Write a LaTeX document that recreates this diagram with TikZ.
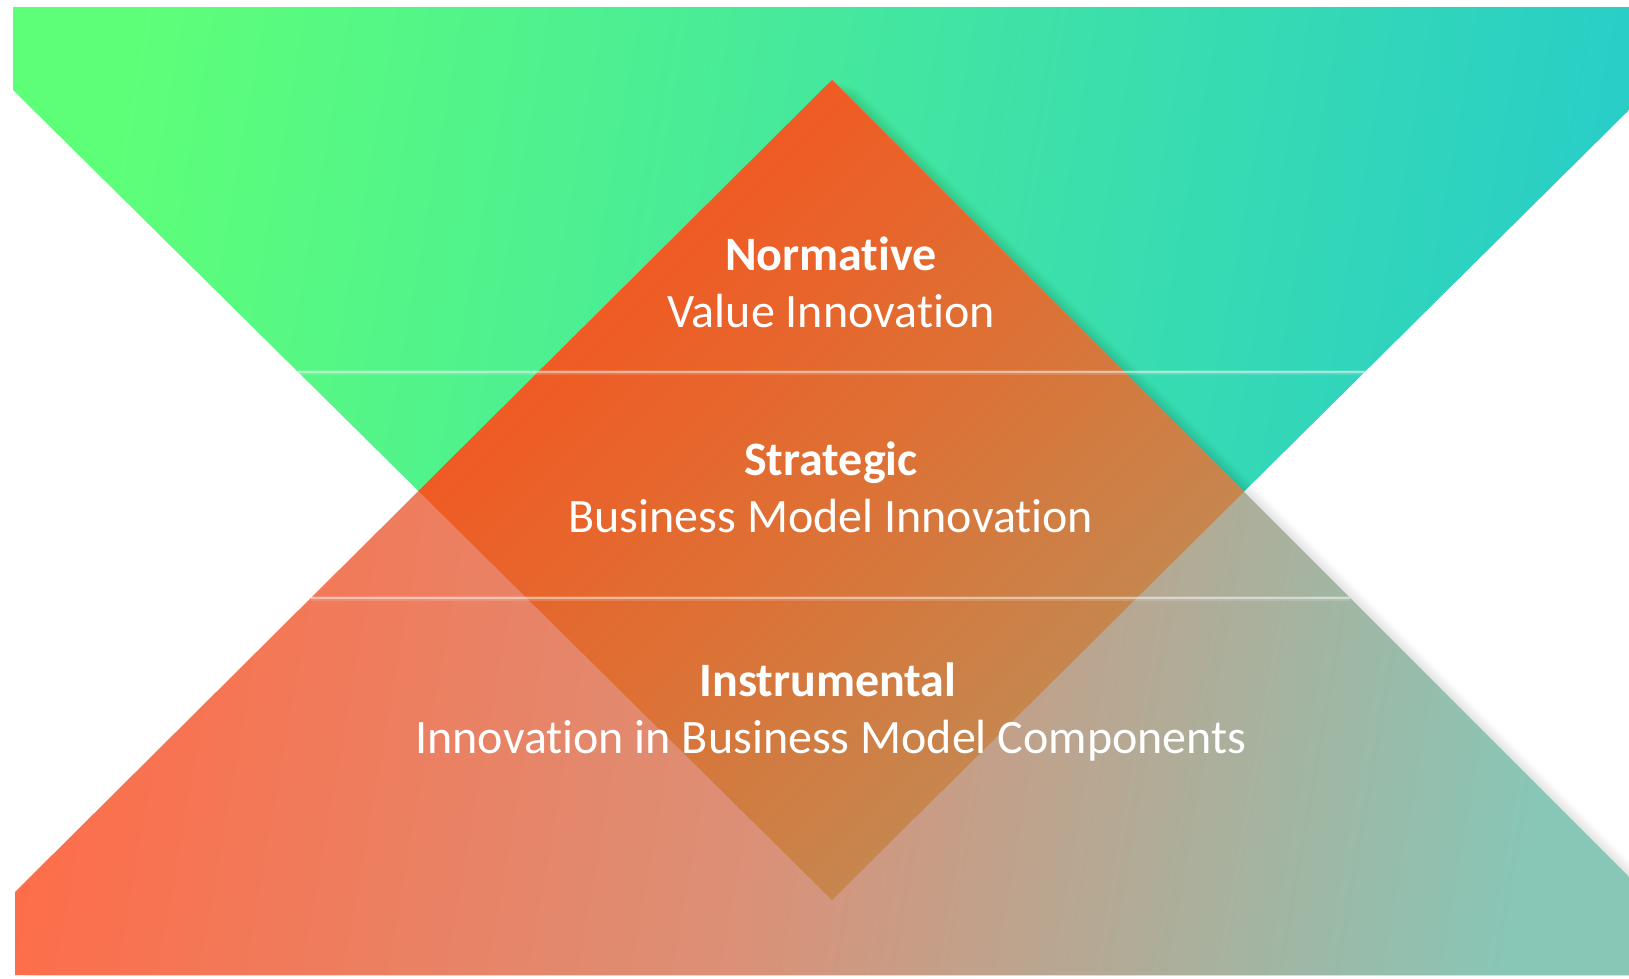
\documentclass[tikz,border=0pt]{standalone}
\usepackage{fontspec}
\setmainfont[Ligatures=NoCommon]{Carlito}
\definecolor{gA}{HTML}{5EFF78}
\definecolor{gB}{HTML}{28CDC8}
\definecolor{lA}{HTML}{FF6C48}
\definecolor{lM}{HTML}{DA9178}
\definecolor{lB}{HTML}{88C6B6}
\definecolor{dA}{HTML}{F7521E}
\definecolor{dM}{HTML}{DE7034}
\definecolor{dB}{HTML}{BC8F58}
\begin{document}
\begin{tikzpicture}[x=1pt,y=-1pt,
  lbl/.style={text=white, font=\fontsize{48}{57}\selectfont, anchor=base, inner sep=0pt},
  ttl/.style={text=white, font=\fontsize{48}{57}\selectfont\bfseries, anchor=base, inner sep=0pt},
  sepglow/.style={draw=white, draw opacity=0.14, line width=5pt},
  sepline/.style={draw=white, draw opacity=0.45, line width=2pt}]
\useasboundingbox (0,0) rectangle (1629,978);
\fill[white] (0,0) rectangle (1629,978);
\def\greenpath{(13,7) -- (1629,7) -- (1629,110) -- (832,900) -- (13,90) -- cycle}
\def\lowerpath{(15,975) -- (15,892) -- (832,80) -- (1629,877) -- (1629,975) -- cycle}
% upper (green) triangle
\path[top color=gA, bottom color=gB, middle color=gA!50!gB, shading angle=80] \greenpath;
% soft shadow of the lower triangle
\begin{scope}
  \clip (0,0) rectangle (1629,975);
  \foreach \i in {1,...,14} {
    \fill[black, opacity=0.009, shift={(\i*1.8,\i*0.6)}] \lowerpath;
  }
\end{scope}
% lower triangle
\path[top color=lA, bottom color=lB, middle color=lM, shading angle=80] \lowerpath;
% diamond (intersection)
\begin{scope}
  \clip \greenpath;
  \clip \lowerpath;
  \path[top color=dA, bottom color=dB, middle color=dM, shading angle=45] (418,80) rectangle (1245,900);
\end{scope}
% separator lines
\coordinate (s1l) at (298,372);
\coordinate (s1r) at (1365,372);
\coordinate (s2l) at (311,598);
\coordinate (s2r) at (1350,598);
\draw[sepglow] (s1l) -- (s1r);
\draw[sepline] (s1l) -- (s1r);
\draw[sepglow] (s2l) -- (s2r);
\draw[sepline] (s2l) -- (s2r);
% texts
\node[ttl] (n1) at (831,270) {Normative};
\node[lbl] (n2) at (831,327) {Value Innovation};
\node[ttl] (s1) at (831,475) {Strategic};
\node[lbl] (s2) at (831,532) {Business Model Innovation};
\node[ttl] (i1) at (828,696) {Instrumental};
\node[lbl] (i2) at (831,753) {Innovation in Business Model Components};
\end{tikzpicture}
\end{document}
